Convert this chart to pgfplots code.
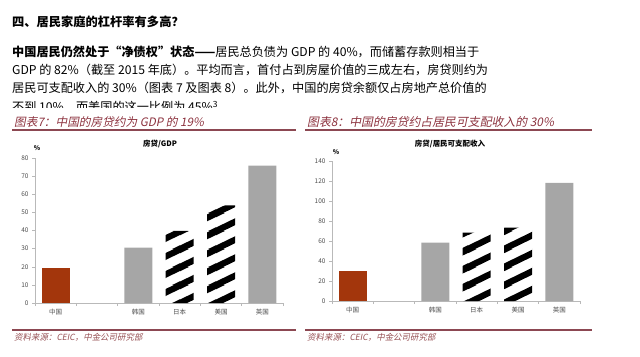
\documentclass[border=0pt]{standalone}
\usepackage{fontspec}
\setmainfont{Noto Sans CJK SC}
\newfontfamily\cjkit[FakeSlant=0.2]{Noto Sans CJK SC}
\usepackage{pgfplots}
\pgfplotsset{compat=1.18}
\usetikzlibrary{patterns}
\definecolor{rust}{RGB}{163,54,12}
\definecolor{barGray}{RGB}{166,166,166}
\definecolor{titlered}{RGB}{140,50,62}
\definecolor{rulecol}{RGB}{140,72,82}
\definecolor{srccol}{RGB}{150,80,84}
\pgfdeclarepatternformonly{thickhatch}{\pgfqpoint{0bp}{0bp}}{\pgfqpoint{36bp}{18bp}}{\pgfqpoint{36bp}{18bp}}{%
  \pgfsetlinewidth{6.5bp}%
  \pgfpathmoveto{\pgfqpoint{-4bp}{-20bp}}\pgfpathlineto{\pgfqpoint{40bp}{2bp}}%
  \pgfpathmoveto{\pgfqpoint{-4bp}{-2bp}}\pgfpathlineto{\pgfqpoint{40bp}{20bp}}%
  \pgfpathmoveto{\pgfqpoint{-4bp}{16bp}}\pgfpathlineto{\pgfqpoint{40bp}{38bp}}%
  \pgfusepath{stroke}%
}
\pgfplotsset{mystyle/.style={
  scale only axis, anchor=south west,
  width=248bp,
  xmin=-0.5, xmax=5.5, ymin=0,
  axis x line*=bottom, axis y line*=left,
  axis line style={-, draw=gray!55, line width=0.6bp},
  xtick={-0.5,0.5,1.5,2.5,3.5,4.5,5.5}, x tick label as interval,
  xticklabels={中国,,韩国,日本,美国,英国},
  tick align=outside, major tick length=3bp,
  tick style={draw=gray!55, line width=0.5bp},
  ticklabel style={font=\fontsize{6.5}{7}\selectfont, text=black!70},
  /pgf/number format/assume math mode=true,
  clip=false,
}}
\begin{document}
\begin{tikzpicture}[x=1bp,y=1bp]
\path[use as bounding box] (0,0) rectangle (640,356);
% heading and paragraph
\node[anchor=west,inner sep=0] at (12,334) {\bfseries\fontsize{12.3}{14}\selectfont 四、居民家庭的杠杆率有多高？};
\node[anchor=west,inner sep=0] at (12,304) {\fontsize{12.2}{14}\selectfont{\bfseries 中国居民仍然处于“净债权”状态——}居民总负债为 GDP 的 40\%，而储蓄存款则相当于};
\node[anchor=west,inner sep=0] at (12,286) {\fontsize{12.2}{14}\selectfont GDP 的 82\%（截至 2015 年底）。平均而言，首付占到房屋价值的三成左右，房贷则约为};
\node[anchor=west,inner sep=0] at (12,268) {\fontsize{12.2}{14}\selectfont 居民可支配收入的 30\%（图表 7 及图表 8）。此外，中国的房贷余额仅占房地产总价值的};
\begin{scope}
\clip (0,249) rectangle (640,356);
\node[anchor=west,inner sep=0] at (12,249) {\fontsize{12.2}{14}\selectfont 不到 10\%，而美国的这一比例为 45\%\textsuperscript{3}};
\end{scope}
% titles and rules
\node[anchor=west,inner sep=0] at (14,234) {\cjkit\fontsize{11.7}{13}\selectfont\color{titlered}图表7：中国的房贷约为 GDP 的 19\%};
\node[anchor=west,inner sep=0] at (307,234) {\cjkit\fontsize{11.9}{13}\selectfont\color{titlered}图表8：中国的房贷约占居民可支配收入的 30\%};
\draw[rulecol, line width=1.1bp] (12,226) -- (296,226);
\draw[rulecol, line width=1.1bp] (305,226) -- (592,226);
\draw[rulecol, line width=1.1bp] (12,26) -- (296,26);
\draw[rulecol, line width=1.1bp] (305,26) -- (592,26);
\node[anchor=west,inner sep=0] at (14,19) {\cjkit\fontsize{8.5}{10}\selectfont\color{srccol}资料来源：CEIC，中金公司研究部};
\node[anchor=west,inner sep=0] at (307,19) {\cjkit\fontsize{8.5}{10}\selectfont\color{srccol}资料来源：CEIC，中金公司研究部};
% chart titles and units
\node at (160,212) {\bfseries\fontsize{7.5}{9}\selectfont 房贷/GDP};
\node at (450,212) {\bfseries\fontsize{7.5}{9}\selectfont 房贷/居民可支配收入};
\node at (37,208) {\bfseries\fontsize{6.5}{7}\selectfont\%};
\node at (336,204) {\bfseries\fontsize{6.5}{7}\selectfont\%};
% left chart
\begin{axis}[mystyle, at={(35bp,53bp)}, height=145bp, ymax=80, ytick={0,10,...,80}]
\addplot[ybar, bar width=28bp, bar shift=0pt, draw=none, fill=rust] coordinates {(0,19.2)};
\addplot[ybar, bar width=28bp, bar shift=0pt, draw=none, fill=barGray] coordinates {(2,30.6) (5,75.8)};
\addplot[ybar, bar width=28bp, bar shift=0pt, draw=none, pattern=thickhatch, pattern color=black] coordinates {(3,39.8) (4,53.8)};
\end{axis}
% right chart
\begin{axis}[mystyle, at={(332bp,55bp)}, height=140bp, ymax=140, ytick={0,20,...,140}]
\addplot[ybar, bar width=28bp, bar shift=0pt, draw=none, fill=rust] coordinates {(0,30.5)};
\addplot[ybar, bar width=28bp, bar shift=0pt, draw=none, fill=barGray] coordinates {(2,58.5) (5,118.2)};
\addplot[ybar, bar width=28bp, bar shift=0pt, draw=none, pattern=thickhatch, pattern color=black] coordinates {(3,68.5) (4,73.3)};
\end{axis}
\end{tikzpicture}
\end{document}
